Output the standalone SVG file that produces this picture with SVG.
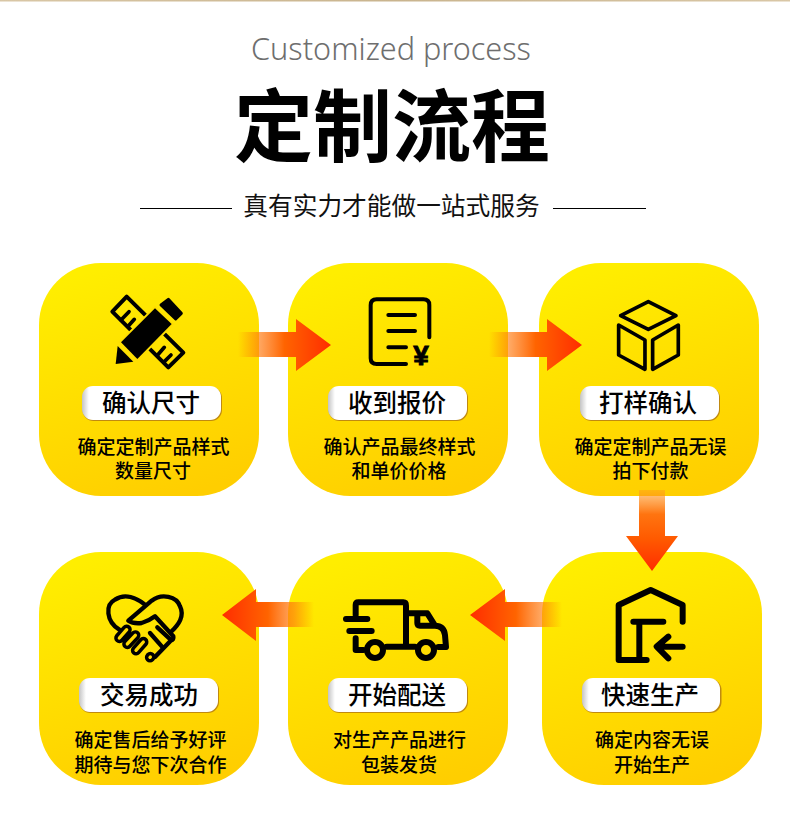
<svg xmlns="http://www.w3.org/2000/svg" width="790" height="819" viewBox="0 0 790 819">
<defs>
<linearGradient id="card" x1="0.35" y1="0" x2="0.65" y2="1"><stop offset="0" stop-color="#FFEE00"/><stop offset="1" stop-color="#FFCE00"/></linearGradient>
<linearGradient id="pill" x1="0" y1="0" x2="1" y2="0"><stop offset="0" stop-color="#c4c4c4"/><stop offset="0.05" stop-color="#ffffff"/><stop offset="1" stop-color="#ffffff"/></linearGradient>
<linearGradient id="aR" x1="0" y1="0" x2="1" y2="0"><stop offset="0" stop-color="#ff7a00" stop-opacity="0"/><stop offset="0.22" stop-color="#ff7a10" stop-opacity="0.65"/><stop offset="0.5" stop-color="#ff6400"/><stop offset="1" stop-color="#ff2d00"/></linearGradient>
<linearGradient id="aL" x1="1" y1="0" x2="0" y2="0"><stop offset="0" stop-color="#ff7a00" stop-opacity="0"/><stop offset="0.22" stop-color="#ff7a10" stop-opacity="0.65"/><stop offset="0.5" stop-color="#ff6400"/><stop offset="1" stop-color="#ff2d00"/></linearGradient>
<linearGradient id="aD" x1="0" y1="0" x2="0" y2="1"><stop offset="0" stop-color="#ff9a20" stop-opacity="0.5"/><stop offset="0.3" stop-color="#ff7410"/><stop offset="0.6" stop-color="#ff5a00"/><stop offset="1" stop-color="#ff2d00"/></linearGradient>
<linearGradient id="strip" x1="0" y1="0" x2="1" y2="0"><stop offset="0" stop-color="#d9c7a6"/><stop offset="0.5" stop-color="#c9b48e"/><stop offset="1" stop-color="#d9c7a6"/></linearGradient>
</defs>
<style>
.card{fill:url(#card)}
.pillb{fill:#c08a10}
.pill{fill:url(#pill)}
text{font-family:"Noto Sans CJK SC","Noto Sans",sans-serif;text-anchor:middle;fill:#000}
.lab{font-size:24.5px;font-weight:500}
.desc{font-size:19px;font-weight:500}
.ln{fill:none;stroke:#000;stroke-linecap:round;stroke-linejoin:round}
</style>
<rect x="0" y="0" width="790" height="1.5" fill="url(#strip)"/>
<g id="header">
<text x="391" y="60" style="font-family:'Noto Sans',sans-serif;font-size:30.6px;font-weight:300;fill:#6e6e6e">Customized process</text>
<text x="392" y="156" style="font-size:79px;font-weight:700">定制流程</text>
<text x="391.5" y="215" style="font-size:24.7px;font-weight:400;fill:#111">真有实力才能做一站式服务</text>
<rect x="140" y="208" width="92" height="1" fill="#000"/>
<rect x="553" y="208" width="93" height="1" fill="#000"/>
</g>
<g id="n1">
<rect class="card" x="39" y="263" width="220" height="233" rx="62"/>
<g transform="translate(105,290) scale(0.3333)">
<path class="ln" stroke-width="12" d="M65,20 L22,65 L190,232 L235,188 Z"/>
<path class="ln" stroke-width="11" d="M48,90 L72,65 M70,108 L88,88 M158,195 L178,172 M178,215 L198,195"/>
<path d="M150,55 L200,102 L97,207 L48,157 Z" fill="#000" stroke="#FFDF00" stroke-width="12" paint-order="stroke"/>
<path d="M38,168 L85,215 L32,222 Z" fill="#000"/>
<path d="M190,28 L229,70 L212,87 L168,45 Z" fill="#000" stroke="#000" stroke-width="9" stroke-linejoin="round"/>
</g>
<rect class="pillb" x="82.5" y="387" width="139.5" height="34" rx="11"/>
<rect class="pill" x="82" y="386" width="139" height="34" rx="11"/>
<text class="lab" x="151" y="412">确认尺寸</text>
<text class="desc" x="153.5" y="454">确定定制产品样式</text>
<text class="desc" x="153" y="478">数量尺寸</text>
</g>
<g id="n2">
<rect class="card" x="288" y="263" width="220" height="233" rx="62"/>
<g transform="translate(350,280) scale(0.3333)">
<path class="ln" stroke-width="12" d="M238,172 L238,75 Q238,58 220,58 L80,58 Q62,58 62,76 L62,235 Q62,252 80,252 L168,252 M115,105 L195,105 M115,153 L195,153 M115,202 L168,202"/>
</g>
<text x="421" y="365" stroke="#000" stroke-width="0.9" style="font-family:'Liberation Sans',sans-serif;font-size:28px;font-weight:700">¥</text>
<rect class="pillb" x="328.5" y="387" width="139.5" height="34" rx="11"/>
<rect class="pill" x="328" y="386" width="139" height="34" rx="11"/>
<text class="lab" x="397" y="412">收到报价</text>
<text class="desc" x="399.5" y="454">确认产品最终样式</text>
<text class="desc" x="399" y="478">和单价价格</text>
</g>
<g id="n3">
<rect class="card" x="539" y="263" width="220" height="233" rx="62"/>
<g transform="translate(350,280) scale(0.3333)">
<path class="ln" stroke-width="11" d="M895,65 L978,107 L895,148 L812,107 Z M806,135 L885,180 L885,268 L806,225 Z M985,135 L908,180 L908,268 L985,225 Z"/>
</g>
<rect class="pillb" x="580.5" y="387" width="139.5" height="34" rx="11"/>
<rect class="pill" x="580" y="386" width="139" height="34" rx="11"/>
<text class="lab" x="648" y="412">打样确认</text>
<text class="desc" x="650.5" y="454">确定定制产品无误</text>
<text class="desc" x="650.5" y="478">拍下付款</text>
</g>
<g id="n4">
<rect class="card" x="542" y="552" width="220" height="233" rx="62"/>
<g transform="translate(560,490) scale(0.3333)">
<path class="ln" stroke-width="18" d="M368,395 L368,345 L272,300 L176,345 L176,510 L260,510 M220,395 L310,395 M238,395 L238,510 M368,470 L292,470 M325,440 L290,470 L325,505"/>
</g>
<rect class="pillb" x="582.5" y="679" width="139" height="34" rx="11"/>
<rect class="pill" x="582" y="678" width="138" height="34" rx="11"/>
<text class="lab" x="650" y="704">快速生产</text>
<text class="desc" x="652" y="746.5">确定内容无误</text>
<text class="desc" x="652" y="771.5">开始生产</text>
</g>
<g id="n5">
<rect class="card" x="288" y="552" width="220" height="233" rx="62"/>
<g transform="translate(340,595) scale(0.3333)">
<path class="ln" stroke-width="18" d="M47,60 L47,30 Q47,22 55,22 L190,22 Q198,22 198,32 L198,155 L140,155 M198,55 L262,55 L285,92 Q312,92 315,120 L318,156 L295,156 M225,155 L198,155 M232,55 L232,84 Q232,92 240,92 L285,92 M18,72 L82,72 M28,108 L95,108 M47,130 L47,165 L70,165"/>
<path d="M244,66 L256,66 L266,80 L244,80 Z" fill="#FFDF00"/>
<circle class="ln" cx="105" cy="165" r="24" stroke-width="18" style="fill:#FFDC00"/>
<circle class="ln" cx="258" cy="165" r="24" stroke-width="18" style="fill:#FFDC00"/>
</g>
<rect class="pillb" x="328.5" y="679" width="139.5" height="34" rx="11"/>
<rect class="pill" x="328" y="678" width="139" height="34" rx="11"/>
<text class="lab" x="397" y="704">开始配送</text>
<text class="desc" x="399.5" y="746.5">对生产产品进行</text>
<text class="desc" x="399" y="771.5">包装发货</text>
</g>
<g id="n6">
<rect class="card" x="39" y="552" width="220" height="233" rx="62"/>
<g transform="translate(100,588) scale(0.3333)">
<path class="ln" stroke-width="13" d="M58,125 C18,100 15,50 45,35 C75,15 110,30 135,50 M85,98 L155,38 C185,15 230,25 240,55 C255,85 235,110 215,130 M85,98 Q100,108 125,105 Q145,100 165,85 L220,145 Q222,155 212,158 L165,207"/>
<g stroke-linecap="round" fill="none">
<path stroke="#000" stroke-width="31" d="M58,150 L80,125 M82,168 L106,142 M108,187 L130,162 M150,208 L151,207"/>
<path stroke="#FFDA00" stroke-width="10" d="M58,150 L80,125 M82,168 L106,142 M108,187 L130,162 M150,208 L151,207"/>
</g>
<path class="ln" stroke-width="13" d="M172,118 L212,155 M150,135 L188,178"/>
</g>
<rect class="pillb" x="79.5" y="679" width="139.5" height="34" rx="11"/>
<rect class="pill" x="79" y="678" width="139" height="34" rx="11"/>
<text class="lab" x="149" y="704">交易成功</text>
<text class="desc" x="150.5" y="746.5">确定售后给予好评</text>
<text class="desc" x="150.5" y="771.5">期待与您下次合作</text>
</g>
<g id="connectors">
<path fill="url(#aR)" d="M238,332 H296 V319 L331,345 L296,371 V357 H238 Z"/>
<path fill="url(#aR)" d="M489,332 H547 V319 L582,345 L547,371 V357 H489 Z"/>
<path fill="url(#aD)" d="M639,490 H665 V536 H678 L652,571 L626,536 H639 Z"/>
<path fill="url(#aL)" d="M562,602 H505 V589 L470,615 L505,641 V627 H562 Z"/>
<path fill="url(#aL)" d="M314,602 H256 V589 L222,615 L256,641 V627 H314 Z"/>
</g>
</svg>
